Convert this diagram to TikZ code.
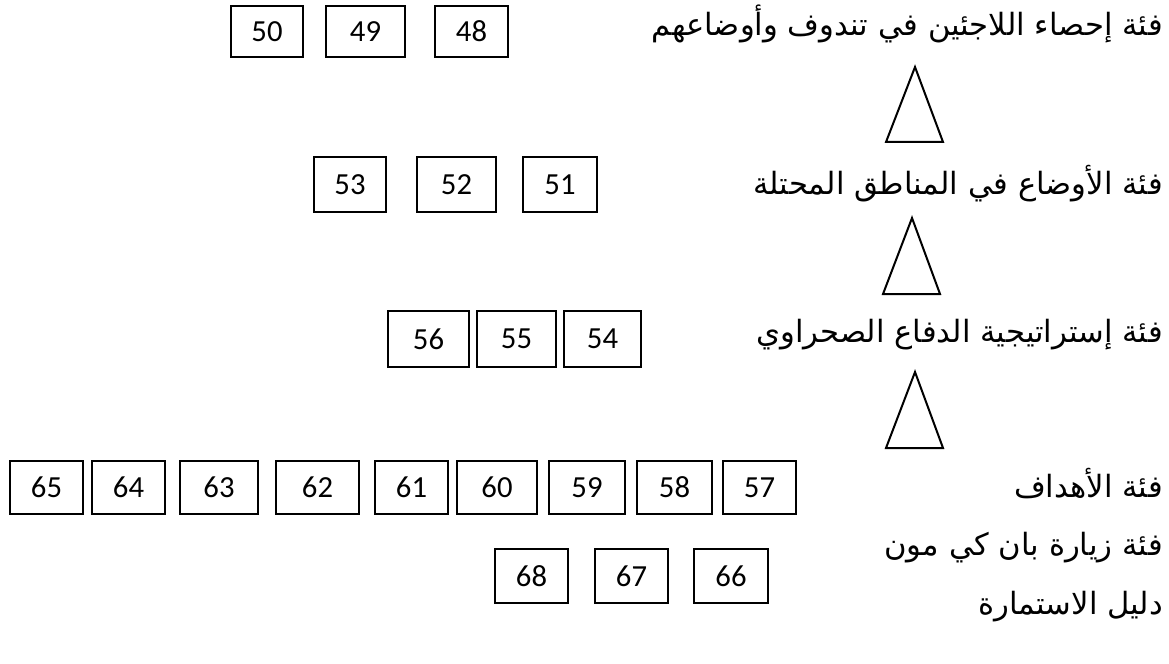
\documentclass[tikz,border=0pt]{standalone}
\usepackage{fontspec}
\setmainfont{Carlito}
\newfontfamily\arabicfont[Script=Arabic]{DejaVu Sans}
\TeXXeTstate=1
\tikzset{
  numbox/.style={draw, line width=1.1pt, inner sep=0pt, outer sep=0pt, font=\fontsize{23}{27}\selectfont},
  lbl/.style={anchor=base east, inner sep=0pt, font=\fontsize{23}{27}\arabicfont},
  tri/.style={draw, line width=1.5pt, line join=miter}
}
\newcommand{\nb}[6]{\node[numbox, minimum width={(#3-#2)*0.75pt}, minimum height={(#5-#4)*0.75pt}] (#1) at ({(#2+#3)/2},{(#4+#5)/2}) {#6};}
\begin{document}
\begin{tikzpicture}[x=0.75pt,y=-0.75pt]
\useasboundingbox (0,0) rectangle (1169,663);
% row 1
\nb{b50}{231}{303}{6}{57}{50}
\nb{b49}{326}{405}{6}{57}{49}
\nb{b48}{435}{508}{6}{57}{48}
% row 2
\nb{b53}{314}{386}{157}{212}{53}
\nb{b52}{417}{496}{157}{212}{52}
\nb{b51}{523}{597}{157}{212}{51}
% row 3
\nb{b56}{388}{469}{311}{367}{56}
\nb{b55}{477}{556}{311}{367}{55}
\nb{b54}{564}{641}{311}{367}{54}
% row 4
\nb{b65}{10}{83}{461}{514}{65}
\nb{b64}{92}{165}{461}{514}{64}
\nb{b63}{180}{258}{461}{514}{63}
\nb{b62}{276}{359}{461}{514}{62}
\nb{b61}{375}{448}{461}{514}{61}
\nb{b60}{457}{537}{461}{514}{60}
\nb{b59}{549}{625}{461}{514}{59}
\nb{b58}{637}{712}{461}{514}{58}
\nb{b57}{723}{796}{461}{514}{57}
% row 5
\nb{b68}{495}{568}{549}{603}{68}
\nb{b67}{595}{668}{549}{603}{67}
\nb{b66}{694}{768}{549}{603}{66}
% triangles
\draw[tri] (915,67) -- (943,142) -- (886,142) -- cycle;
\draw[tri] (912,218) -- (940,294) -- (883,294) -- cycle;
\draw[tri] (915,372) -- (943,448) -- (886,448) -- cycle;
% labels
\node[lbl] (l1) at (1163,36) {\beginR فئة إحصاء اللاجئين في تندوف وأوضاعهم\endR};
\node[lbl] (l2) at (1163,194) {\beginR فئة الأوضاع في المناطق المحتلة\endR};
\node[lbl] (l3) at (1163,342) {\beginR فئة إستراتيجية الدفاع الصحراوي\endR};
\node[lbl] (l4) at (1163,497) {\beginR فئة الأهداف\endR};
\node[lbl] (l5) at (1163,555) {\beginR فئة زيارة بان كي مون\endR};
\node[lbl] (l6) at (1163,614) {\beginR دليل الاستمارة\endR};
\end{tikzpicture}
\end{document}
